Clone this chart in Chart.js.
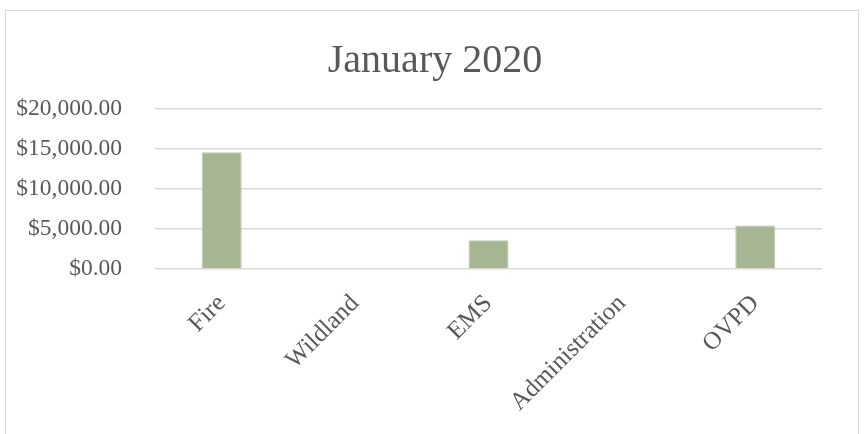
<!DOCTYPE html>
<html lang="en">
<head>
  <meta charset="UTF-8" />
  <title>January 2020</title>
  <script src="https://cdn.jsdelivr.net/npm/chart.js"></script>
  <style>
    html, body { margin: 0; height: 100%; background: #fff; overflow: hidden; }
    #frame {
      position: absolute; left: 5px; top: 10px; width: 854px; height: 500px;
      border: 1px solid #d9d9d9; box-sizing: border-box;
    }
    #wrap { position: absolute; left: 0; top: 0; width: 865px; height: 434px; }
  </style>
</head>
<body>
<div id="frame"></div>
<div id="wrap"><canvas id="chart"></canvas></div>
<script>
const categories = ['Fire', 'Wildland', 'EMS', 'Administration', 'OVPD'];
const amounts = [14600, 0, 3600, 150, 5450];
const yTicks = [0, 5000, 10000, 15000, 20000];

const grey = '#595959';
const serif = "'Liberation Serif', 'DejaVu Serif', serif";

new Chart(document.getElementById('chart'), {
  type: 'bar',
  data: {
    labels: categories,
    datasets: [{
      data: amounts,
      backgroundColor: '#a6b592',
      borderColor: '#b9c6a8',
      borderWidth: 1,
      categoryPercentage: 1,
      barPercentage: 0.3
    }]
  },
  options: {
    responsive: true,
    maintainAspectRatio: false,
    animation: false,
    layout: { padding: { left: 5, right: 0, top: 0, bottom: 0 } },
    plugins: {
      legend: { display: false },
      tooltip: { enabled: false },
      title: {
        display: true,
        text: 'January 2020',
        color: grey,
        font: { family: serif, size: 40, weight: 'normal' },
        padding: { top: 37, bottom: 24 }
      }
    },
    scales: {
      x: {
        grid: { display: false },
        border: { display: false },
        ticks: {
          color: grey,
          font: { family: serif, size: 25 },
          minRotation: 45,
          maxRotation: 45,
          padding: 12,
          labelOffset: 0
        },
        afterFit: s => { s.height = 165; }
      },
      y: {
        min: 0,
        max: 20000,
        afterBuildTicks: s => { s.ticks = yTicks.map(v => ({ value: v })); },
        grid: { color: '#d9d9d9', lineWidth: 1.5, drawTicks: false },
        border: { display: false },
        ticks: {
          color: grey,
          font: { family: serif, size: 23.5 },
          padding: 33,
          callback: v => '$' + v.toLocaleString('en-US', { minimumFractionDigits: 2, maximumFractionDigits: 2 })
        },
        afterFit: s => { s.width = 150; }
      },
      // empty axis on the right, only there to hold the gap after the plot
      gap: {
        type: 'linear',
        position: 'right',
        display: true,
        grid: { display: false },
        border: { display: false },
        ticks: { display: false },
        afterFit: s => { s.width = 43; }
      }
    }
  }
});
</script>
</body>
</html>
